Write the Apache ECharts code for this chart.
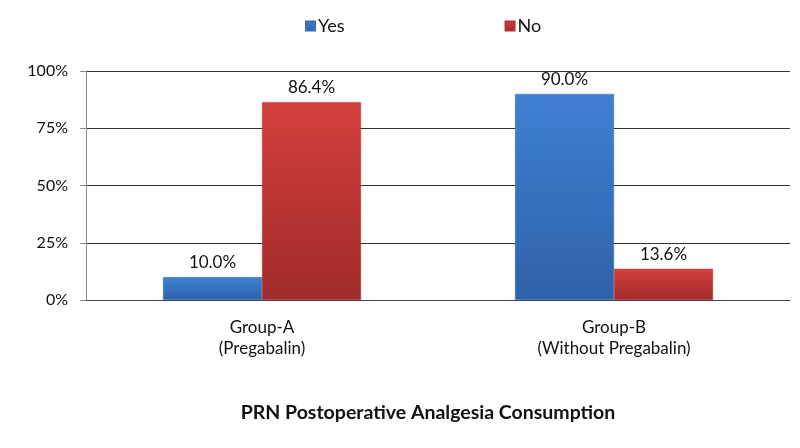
<!DOCTYPE html>
<html><head><meta charset="utf-8">
<script src="https://cdn.jsdelivr.net/npm/echarts@6/dist/echarts.min.js"></script>
<style>html,body{margin:0;padding:0;background:#fff}#c{width:800px;height:448px}</style>
</head><body><div id="c"></div>
<script>
const categories = ['Group-A\n(Pregabalin)', 'Group-B\n(Without Pregabalin)'];
const seriesNames = ['Yes', 'No'];
const yesValues = [10.0, 90.0];
const noValues = [86.4, 13.6];
const yTicks = [0, 25, 50, 75, 100];
const xTitle = 'PRN Postoperative Analgesia Consumption';

const FONT = 'Lato';
const chart = echarts.init(document.getElementById('c'), null, {renderer: 'canvas'});
function grad(top, bottom) {
  return new echarts.graphic.LinearGradient(0, 0, 0, 1, [{offset: 0, color: top}, {offset: 1, color: bottom}]);
}
const label = {show: true, position: 'top', distance: 6, formatter: p => p.value.toFixed(1) + '%',
  fontFamily: FONT, fontSize: 17, color: '#111'};
chart.setOption({
  animation: false,
  textStyle: {fontFamily: FONT},
  title: {text: xTitle, left: 423, top: 398, textAlign: 'center',
    textStyle: {fontFamily: FONT, fontSize: 19.5, fontWeight: 'bold', color: '#111'}},
  legend: {top: 12, left: 300, itemGap: 160, itemWidth: 9, itemHeight: 9, icon: 'rect',
    textStyle: {fontFamily: FONT, fontSize: 18, color: '#111', padding: [0, 0, 0, -2]},
    data: seriesNames},
  grid: {left: 86, right: 10, top: 71, bottom: 148, containLabel: false},
  xAxis: {type: 'category', data: categories,
    axisLine: {lineStyle: {color: '#444', width: 1}}, axisTick: {show: false},
    axisLabel: {fontFamily: FONT, fontSize: 17, color: '#111', lineHeight: 21, margin: 17}},
  yAxis: {type: 'value', min: 0, max: 100, interval: 25,
    axisLine: {show: true, lineStyle: {color: '#888'}},
    axisTick: {show: true, length: 6, lineStyle: {color: '#888'}},
    splitLine: {lineStyle: {color: '#333', width: 1}},
    axisLabel: {fontFamily: FONT, fontSize: 16, color: '#111', margin: 18,
      formatter: v => yTicks.includes(v) ? v + '%' : ''}},
  series: [
    {name: seriesNames[0], type: 'bar', data: yesValues, barWidth: 99, barGap: '0%',
      itemStyle: {color: grad('#3f80d3', '#2e62a8'), borderColor: '#3a6fb8', borderWidth: 0.5}, label},
    {name: seriesNames[1], type: 'bar', data: noValues, barWidth: 99,
      itemStyle: {color: grad('#d4403e', '#a02a2a'), borderColor: '#b03535', borderWidth: 0.5}, label}
  ]
});
</script></body></html>
